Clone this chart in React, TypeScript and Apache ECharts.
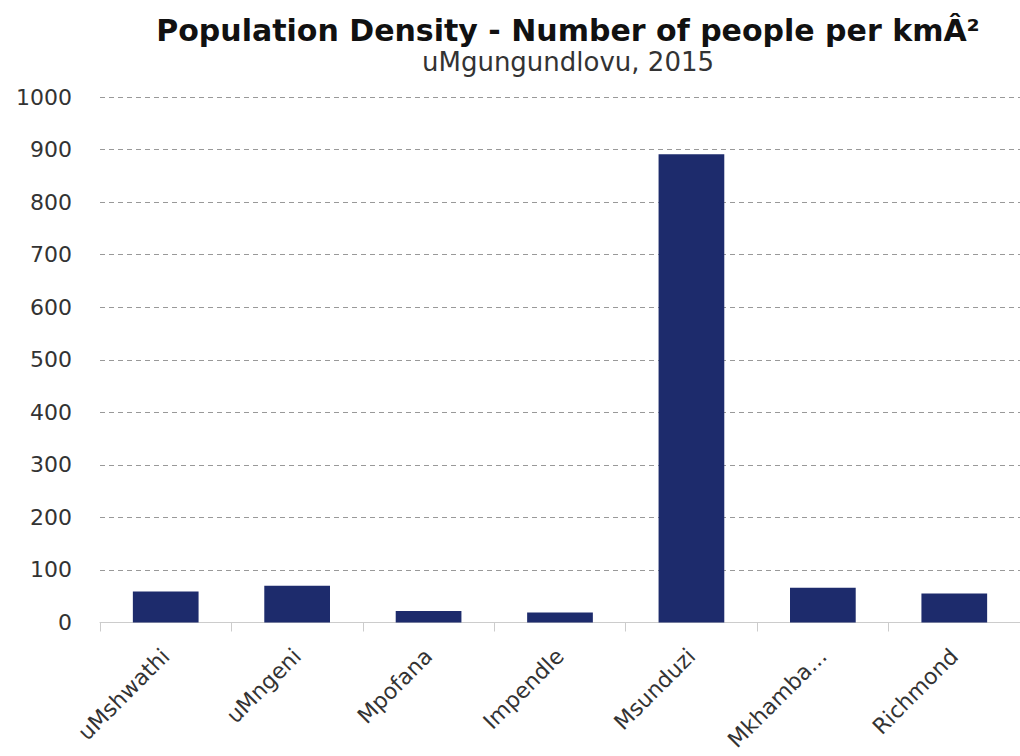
import React, { useEffect, useRef } from "react";
import * as echarts from "echarts";

const categories = ["uMshwathi", "uMngeni", "Mpofana", "Impendle", "Msunduzi", "Mkhambathini", "Richmond"];
const density = [59, 70, 22, 19, 891, 66, 55];
const titleText = "Population Density - Number of people per kmÂ²";
const subtitleText = "uMgungundlovu, 2015";

export default function App() {
  const ref = useRef<HTMLDivElement>(null);
  useEffect(() => {
    document.body.style.margin = "0";
    const chart = echarts.init(ref.current!, null, { renderer: "svg" });
    chart.setOption({
      animation: false,
      backgroundColor: "#ffffff",
      textStyle: { fontFamily: "DejaVu Sans" },
      title: {
        text: titleText,
        subtext: subtitleText,
        left: 563,
        textAlign: "center",
        top: 10,
        itemGap: 4,
        textStyle: { fontSize: 30, fontWeight: "bold", color: "#111", fontFamily: "DejaVu Sans" },
        subtextStyle: { fontSize: 26, color: "#333", fontFamily: "DejaVu Sans" },
      },
      grid: { left: 100, right: -6, top: 97, bottom: 133.5, containLabel: false },
      xAxis: {
        type: "category",
        data: categories,
        axisLine: { lineStyle: { color: "#cccccc", width: 1 } },
        axisTick: { show: true, length: 9, lineStyle: { color: "#cccccc" } },
        axisLabel: {
          rotate: 45,
          margin: 30,
          fontSize: 22,
          color: "#333",
          interval: 0,
          formatter: (v: string) => (v.length > 10 ? v.slice(0, 7) + "..." : v),
        },
      },
      yAxis: {
        type: "value",
        min: 0,
        max: 1000,
        interval: 100,
        axisLine: { show: false },
        axisTick: { show: false },
        axisLabel: { fontSize: 22, color: "#333", margin: 28, formatter: (v: number) => String(v) },
        splitLine: { lineStyle: { color: "#999999", type: [5, 4], width: 1 } },
      },
      series: [
        {
          type: "bar",
          data: density,
          barWidth: "50%",
          itemStyle: { color: "#1d2b6c" },
        },
      ],
    });
    return () => chart.dispose();
  }, []);
  return <div ref={ref} style={{ width: 1020, height: 756 }} />;
}
